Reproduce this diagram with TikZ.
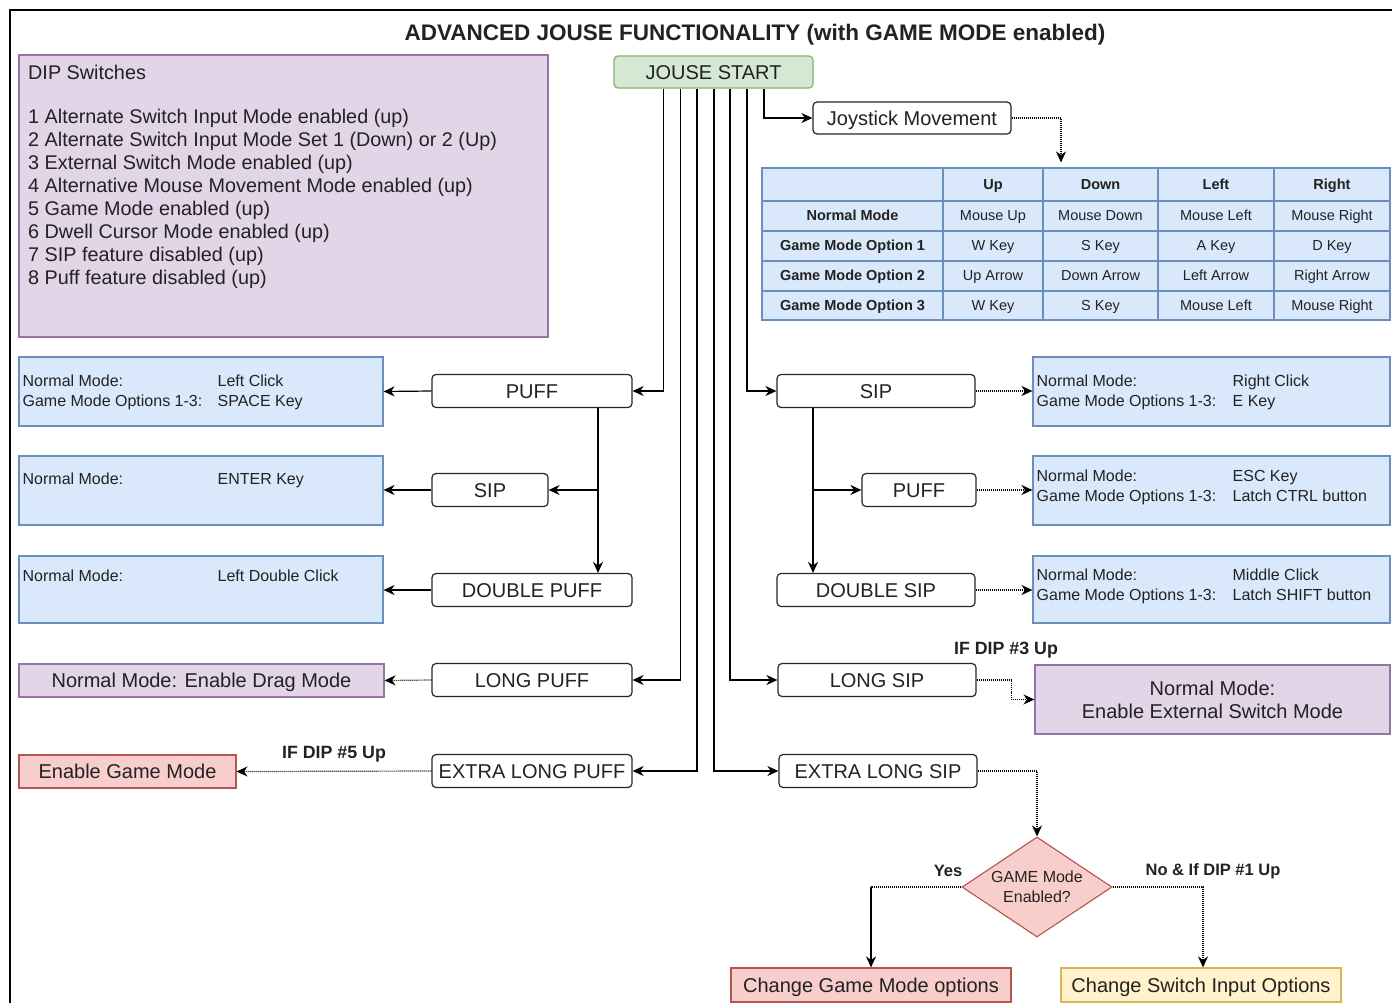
\documentclass[tikz,border=0pt]{standalone}
\usepackage{fontspec}
\setmainfont{Liberation Sans}
\usetikzlibrary{arrows.meta,calc,shapes.geometric}
\definecolor{txt}{HTML}{222222}
\definecolor{gfill}{HTML}{D5E8D4}\definecolor{gstroke}{HTML}{82B366}
\definecolor{pfill}{HTML}{E1D5E7}\definecolor{pstroke}{HTML}{9673A6}
\definecolor{bfill}{HTML}{DAE8FC}\definecolor{bstroke}{HTML}{6C8EBF}
\definecolor{rfill}{HTML}{F8CECC}\definecolor{rstroke}{HTML}{B85450}
\definecolor{yfill}{HTML}{FFF2CC}\definecolor{ystroke}{HTML}{D6B656}
\begin{document}
\begin{tikzpicture}[x=1pt,y=-1pt,
  every node/.style={text=txt},
  fbox/.style={draw=black!85, line width=1.2, rounded corners=4, fill=white, inner sep=0,
    font=\fontsize{20}{23}\selectfont, minimum height=33, text height=16.5, text depth=2.5},
  cbox/.style={draw, line width=1.1, inner sep=0, font=\fontsize{20}{23}\selectfont,
    text height=16.5, text depth=2.5},
  blueb/.style={draw=bstroke, fill=bfill, line width=1.1, inner sep=0},
  small/.style={font=\fontsize{16}{20}\selectfont, inner sep=0, align=left},
  cell/.style={font=\fontsize{14.5}{17}\selectfont, inner sep=0, text height=11.5, text depth=2.5},
  hcell/.style={cell, font=\bfseries\fontsize{14.5}{17}\selectfont},
  lbl/.style={font=\bfseries\fontsize{16.5}{19}\selectfont, inner sep=0},
  dlbl/.style={font=\bfseries\fontsize{17.8}{20}\selectfont, inner sep=0},
  arr/.style={-{Stealth[length=11,width=10,inset=3.5]}, line width=1.2, draw=black},
  dots/.style={dash pattern=on 1pt off 1pt}]
\useasboundingbox (0,0) rectangle (1392,1002);
\fill[white] (0,0) rectangle (1392,1002);
% frame
\draw[line width=2.2] (10,1010) -- (10,10) -- (1400,10);
% title
\node[font=\bfseries\fontsize{22.5}{26}\selectfont, inner sep=0] (title) at (755,35)
  {ADVANCED JOUSE FUNCTIONALITY (with GAME MODE enabled)};
% DIP switches
\node[draw=pstroke, fill=pfill, line width=1.1, minimum width=529, minimum height=282, inner sep=0] (dip) at (283.5,196) {};
\node[font=\fontsize{19.8}{23}\selectfont, inner sep=0, align=left, anchor=north west] (diptext) at (28,65)
  {DIP Switches\\[21pt]
   1 Alternate Switch Input Mode enabled (up)\\
   2 Alternate Switch Input Mode Set 1 (Down) or 2 (Up)\\
   3 External Switch Mode enabled (up)\\
   4 Alternative Mouse Movement Mode enabled (up)\\
   5 Game Mode enabled (up)\\
   6 Dwell Cursor Mode enabled (up)\\
   7 SIP feature disabled (up)\\
   8 Puff feature disabled (up)};
% start and joystick
\node[fbox, draw=gstroke, fill=gfill, minimum width=199, minimum height=32] (js) at (713.5,72) {JOUSE START};
\node[fbox, minimum width=198, minimum height=32] (joy) at (912,118) {Joystick Movement};
% table
\node[draw=bstroke, fill=bfill, line width=1.1, minimum width=628, minimum height=152, inner sep=0] (tbl) at (1076,244) {};
\foreach \x in {943,1043,1158,1274} \draw[bstroke, line width=1.1] (\x,168) -- (\x,320);
\foreach \y in {201,231,261,291} \draw[bstroke, line width=1.1] (762,\y) -- (1390,\y);
\node[hcell] (h1) at (993,184.5) {Up};
\node[hcell] (h2) at (1100.5,184.5) {Down};
\node[hcell] (h3) at (1216,184.5) {Left};
\node[hcell] (h4) at (1332,184.5) {Right};
\node[hcell] (r1) at (852.5,216) {Normal Mode};
\node[hcell] (r2) at (852.5,246) {Game Mode Option 1};
\node[hcell] (r3) at (852.5,276) {Game Mode Option 2};
\node[hcell] (r4) at (852.5,305.5) {Game Mode Option 3};
\node[cell] (c11) at (993,216) {Mouse Up};
\node[cell] (c12) at (1100.5,216) {Mouse Down};
\node[cell] (c13) at (1216,216) {Mouse Left};
\node[cell] (c14) at (1332,216) {Mouse Right};
\node[cell] (c21) at (993,246) {W Key};
\node[cell] (c22) at (1100.5,246) {S Key};
\node[cell] (c23) at (1216,246) {A Key};
\node[cell] (c24) at (1332,246) {D Key};
\node[cell] (c31) at (993,276) {Up Arrow};
\node[cell] (c32) at (1100.5,276) {Down Arrow};
\node[cell] (c33) at (1216,276) {Left Arrow};
\node[cell] (c34) at (1332,276) {Right Arrow};
\node[cell] (c41) at (993,305.5) {W Key};
\node[cell] (c42) at (1100.5,305.5) {S Key};
\node[cell] (c43) at (1216,305.5) {Mouse Left};
\node[cell] (c44) at (1332,305.5) {Mouse Right};
% left action nodes
\node[fbox, minimum width=200] (lpuff) at (532,391) {PUFF};
\node[fbox, minimum width=116] (lsip) at (490,490) {SIP};
\node[fbox, minimum width=200] (ldpuff) at (532,590) {DOUBLE PUFF};
\node[fbox, minimum width=200] (llpuff) at (532,680) {LONG PUFF};
\node[fbox, minimum width=200] (lxpuff) at (532,771) {EXTRA LONG PUFF};
% right action nodes
\node[fbox, minimum width=198] (rsip) at (876,391) {SIP};
\node[fbox, minimum width=114] (rpuff) at (919,490) {PUFF};
\node[fbox, minimum width=198] (rdsip) at (876,590) {DOUBLE SIP};
\node[fbox, minimum width=198] (rlsip) at (877,680) {LONG SIP};
\node[fbox, minimum width=198] (rxsip) at (878,771) {EXTRA LONG SIP};
% left result boxes
\node[blueb, minimum width=364, minimum height=69] (lb1) at (201,391.5) {};
\node[small, anchor=north west] (lt1) at ($(lb1.north west)+(4,18.5)$)
  {\makebox[195pt][l]{Normal Mode:}Left Click\\\makebox[195pt][l]{Game Mode Options 1-3:}SPACE Key};
\node[blueb, minimum width=364, minimum height=69] (lb2) at (201,490.5) {};
\node[small, anchor=north west] (lt2) at ($(lb2.north west)+(4,17.5)$)
  {\makebox[195pt][l]{Normal Mode:}ENTER Key};
\node[blueb, minimum width=364, minimum height=67] (lb3) at (201,589.5) {};
\node[small, anchor=north west] (lt3) at ($(lb3.north west)+(4,14.5)$)
  {\makebox[195pt][l]{Normal Mode:}Left Double Click};
\node[cbox, draw=pstroke, fill=pfill, minimum width=365, minimum height=33] (drag) at (201.5,680.5) {Normal Mode: Enable Drag Mode};
\node[cbox, draw=rstroke, fill=rfill, minimum width=217, minimum height=33] (egm) at (127.5,771.5) {Enable Game Mode};
% right result boxes
\node[blueb, minimum width=357, minimum height=69] (rb1) at (1211.5,391.5) {};
\node[small, anchor=north west] (rt1) at ($(rb1.north west)+(4,18.5)$)
  {\makebox[196pt][l]{Normal Mode:}Right Click\\\makebox[196pt][l]{Game Mode Options 1-3:}E Key};
\node[blueb, minimum width=357, minimum height=69] (rb2) at (1211.5,490.5) {};
\node[small, anchor=north west] (rt2) at ($(rb2.north west)+(4,14.5)$)
  {\makebox[196pt][l]{Normal Mode:}ESC Key\\\makebox[196pt][l]{Game Mode Options 1-3:}Latch CTRL button};
\node[blueb, minimum width=357, minimum height=67] (rb3) at (1211.5,589.5) {};
\node[small, anchor=north west] (rt3) at ($(rb3.north west)+(4,13.5)$)
  {\makebox[196pt][l]{Normal Mode:}Middle Click\\\makebox[196pt][l]{Game Mode Options 1-3:}Latch SHIFT button};
\node[cbox, draw=pstroke, fill=pfill, minimum width=355, minimum height=69, align=center,
  font=\fontsize{20}{23}\selectfont, text height=, text depth=] (ext) at (1212.5,699.5)
  {Normal Mode:\\Enable External Switch Mode};
% decision
\node[shape=diamond, draw=rstroke, fill=rfill, line width=1.1, minimum width=150, minimum height=100,
  inner sep=0, aspect=1.5, align=center, font=\fontsize{16}{20}\selectfont] (dia) at (1037,887)
  {GAME Mode\\Enabled?};
\node[cbox, draw=rstroke, fill=rfill, minimum width=280, minimum height=34] (cgm) at (871,985) {Change Game Mode options};
\node[cbox, draw=ystroke, fill=yfill, minimum width=280, minimum height=34] (csi) at (1201,985) {Change Switch Input Options};
% connectors from start
\draw[arr] ([xshift=-50]js.south) |- (lpuff.east);
\draw[arr] ([xshift=-33]js.south) |- (llpuff.east);
\draw[arr] ([xshift=-16.5]js.south) |- (lxpuff.east);
\draw[arr] ([xshift=0.5]js.south) |- (rxsip.west);
\draw[arr] ([xshift=16.5]js.south) |- (rlsip.west);
\draw[arr] ([xshift=33.5]js.south) |- (rsip.west);
\draw[arr] ([xshift=50.5]js.south) |- (joy.west);
\draw[arr, dots] (joy.east) -| ([xshift=-15,yshift=5]tbl.north);
% left side
\draw[arr] ([xshift=66]lpuff.south) -- ([xshift=66]ldpuff.north);
\draw[arr] ([xshift=66]lpuff.south) |- (lsip.east);
\draw[arr] (lpuff.west) -- (lb1.east);
\draw[arr] (lsip.west) -- (lb2.east |- lsip.west);
\draw[arr] (ldpuff.west) -- (lb3.east |- ldpuff.west);
\draw[arr, dots] (llpuff.west) -- (drag.east);
\draw[arr, dots] (lxpuff.west) -- node[dlbl, above=8pt] {IF DIP \#5 Up} (egm.east);
% right side
\draw[arr] ([xshift=-63]rsip.south) -- ([xshift=-63]rdsip.north);
\draw[arr] ([xshift=-63]rsip.south) |- (rpuff.west);
\draw[arr, dots] (rsip.east) -- (rb1.west |- rsip.east);
\draw[arr, dots] (rpuff.east) -- (rb2.west |- rpuff.east);
\draw[arr, dots] (rdsip.east) -- (rb3.west |- rdsip.east);
\coordinate (lsmid) at ($(rlsip.east)!0.6!(ext.west)$);
\draw[arr, dots] (rlsip.east) -| (lsmid) |- (ext.west);
\node[dlbl] (ifdip3) at (1006,650) {IF DIP \#3 Up};
\draw[arr, dots] (rxsip.east) -| (dia.north);
% decision branches
\coordinate (yescorner) at (dia.west -| cgm.north);
\draw[line width=1.2, dots] (dia.west) -- (yescorner);
\draw[arr] (yescorner) -- (cgm.north);
\draw[arr, dots] (dia.east) -| ([xshift=2]csi.north);
\node[lbl] (yes) at (948,871) {Yes};
\node[lbl] (no) at (1213,871) {No \& If DIP \#1 Up};
\end{tikzpicture}
\end{document}
